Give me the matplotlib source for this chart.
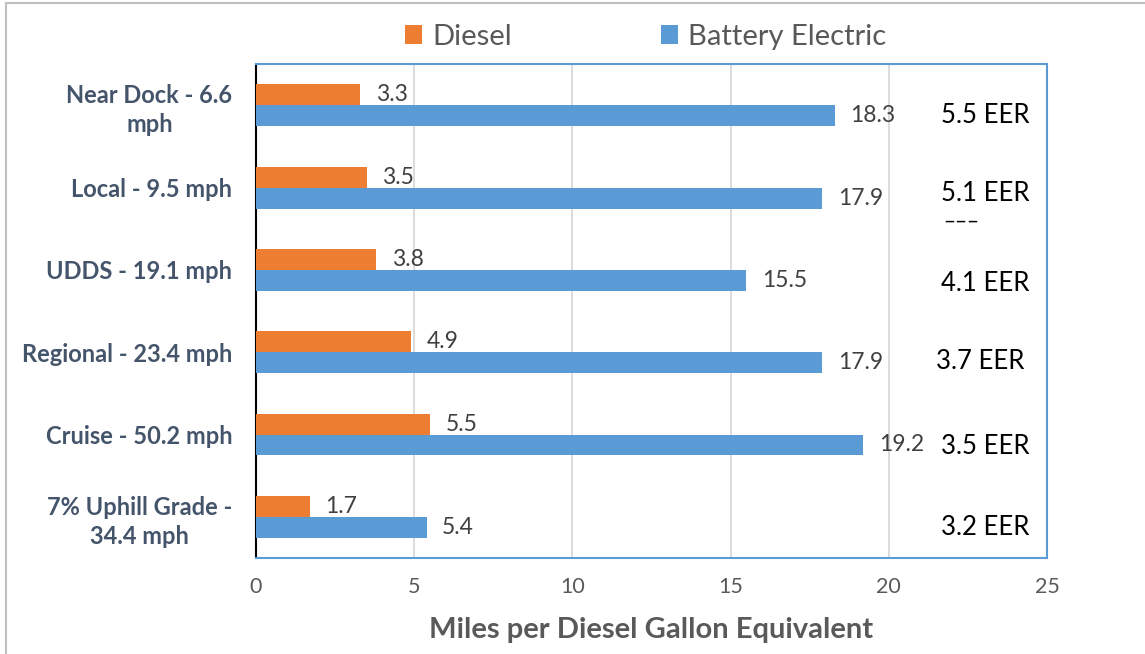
import numpy as np
import matplotlib
matplotlib.use("Agg")
import matplotlib.pyplot as plt
from matplotlib.patches import Rectangle

plt.rcParams['font.family'] = ['Lato', 'DejaVu Sans']

categories = ["Near Dock - 6.6\nmph", "Local - 9.5 mph", "UDDS - 19.1 mph",
              "Regional - 23.4 mph", "Cruise - 50.2 mph", "7% Uphill Grade -\n34.4 mph"]
diesel = [3.3, 3.5, 3.8, 4.9, 5.5, 1.7]
battery = [18.3, 17.9, 15.5, 17.9, 19.2, 5.4]
eer = ["5.5 EER", "5.1 EER", "4.1 EER", "3.7 EER", "3.5 EER", "3.2 EER"]

orange = '#ED7D31'
blue = '#5B9BD5'

fig = plt.figure(figsize=(11.45, 6.54), dpi=100)
ax = fig.add_axes([0.2236, 0.1468, 0.6908, 0.7553])

y = np.arange(len(categories))
h = 0.255
ax.barh(y - h / 2, diesel, height=h, color=orange, label='Diesel', zorder=3)
ax.barh(y + h / 2, battery, height=h, color=blue, label='Battery Electric', zorder=3)

for yi, v in zip(y, diesel):
    ax.annotate(f"{v}", (v, yi - h / 2), xytext=(11, 0), textcoords='offset points',
                va='center', ha='left', fontsize=16.5, color='#404040', zorder=4)
for yi, v in zip(y, battery):
    ax.annotate(f"{v}", (v, yi + h / 2), xytext=(11, 0), textcoords='offset points',
                va='center', ha='left', fontsize=16.5, color='#404040', zorder=4)

# EER text boxes sit slightly below each category centre
eer_dy = [0.12, 0.07, 0.17, 0.11, 0.15, 0.13]
eer_x = [23.05, 23.05, 23.05, 22.9, 23.05, 23.05]
for yi, t, dy, xx in zip(y, eer, eer_dy, eer_x):
    ax.text(xx, yi + dy, t, ha='center', va='center', fontsize=18.5, color='black')
# clipped remnant of a stray text box under "5.1 EER"
ax.text(22.3, 1.42, "‒‒‒", ha='center', va='center', fontsize=16, color='black')

ax.set_xlim(0, 25)
ax.set_ylim(len(categories) - 0.5, -0.5)
ax.set_xticks([0, 5, 10, 15, 20, 25])
ax.set_yticks(y)
ax.set_yticklabels(categories, fontsize=17, fontweight='bold', color='#44546A',
                   multialignment='center', linespacing=1.3)
ax.tick_params(axis='y', length=0, pad=17)
ax.tick_params(axis='x', length=0, pad=14, labelsize=15.5, labelcolor='#595959')
ax.xaxis.grid(True, color='#D9D9D9', linewidth=1.3, zorder=0)

for s in ['top', 'right', 'bottom']:
    ax.spines[s].set_color(blue)
    ax.spines[s].set_linewidth(1.5)
ax.spines['left'].set_color('black')
ax.spines['left'].set_linewidth(1.5)

ax.set_xlabel("Miles per Diesel Gallon Equivalent", fontsize=21, fontweight='bold',
              color='#595959', labelpad=14)

fig.legend(loc='center', bbox_to_anchor=(0.5638, 0.944), ncol=2, frameon=False,
           fontsize=21, labelcolor='#595959', handlelength=0.6, handleheight=0.6,
           handletextpad=0.35, columnspacing=5.1)

fig.patches.append(Rectangle((0.005, -0.02), 1.2, 1.015, transform=fig.transFigure,
                             fill=False, edgecolor='#BFBFBF', linewidth=1.5))

fig.savefig("out.png", dpi=100)
